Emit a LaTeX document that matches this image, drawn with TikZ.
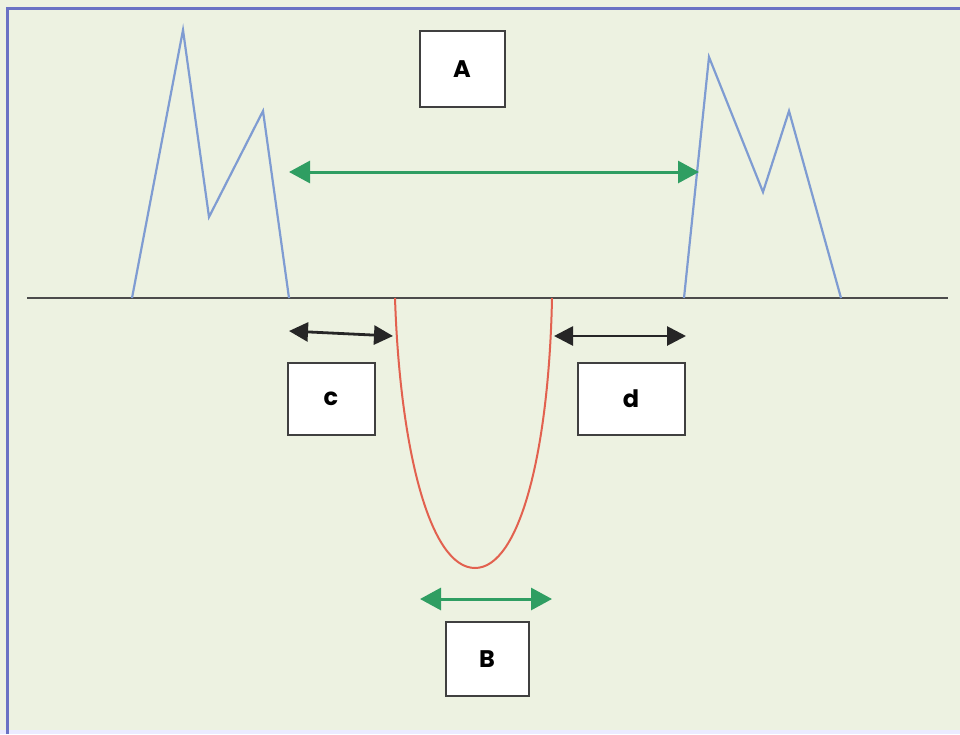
\documentclass[tikz,border=0pt]{standalone}
\usepackage{fontspec}
\setsansfont{Poppins}
\usepackage{tikz}
\usetikzlibrary{arrows.meta,positioning}
\definecolor{bgcol}{HTML}{EDF2E1}
\definecolor{framecol}{HTML}{6A72C4}
\definecolor{peakcol}{HTML}{7F9CD2}
\definecolor{ucol}{HTML}{E2614F}
\definecolor{arrgreen}{HTML}{2F9E62}
\begin{document}
\begin{tikzpicture}[x=1pt,y=-1pt,
label/.style={draw=black!75,line width=2pt,fill=white,minimum width=85pt,minimum height=76pt,inner sep=0pt,font=\sffamily\bfseries\fontsize{24}{28}\selectfont},
peak/.style={draw=peakcol,line width=2.2pt,line join=miter},
garr/.style={{Triangle[length=21pt,width=22pt]}-{Triangle[length=21pt,width=22pt]},draw=arrgreen,fill=arrgreen,line width=3pt},
karr/.style={{Triangle[length=19pt,width=19pt]}-{Triangle[length=19pt,width=19pt]},draw=black!85,fill=black!85,line width=2.8pt}]
% background and frame
\fill[bgcol](0,0)rectangle(960,734);
\useasboundingbox(0,0)rectangle(960,734);
\fill[blue!8](0,730)rectangle(960,734);
\draw[framecol,line width=3pt](7,734)--(7,8)--(960,8);
% baseline
\coordinate(bl)at(27,298);\coordinate(br)at(948,298);
\draw[black!70,line width=2.2pt](bl)--(br);
% peaks
\draw[peak](132,298)--(183,30)--(209,217)--(263,111)--(289,298);
\draw[peak](684,298)--(709,57)--(763,192)--(789,111)--(841,298);
% well
\draw[ucol,line width=2pt](395,298).. controls (400,450) and (430,568) ..(475,568)
  .. controls (520,568) and (549,450) ..(552,298);
% labels
\node[label](boxA)at(462,69){A};
\node[label,minimum width=87pt,minimum height=72pt](boxc)at(331,399){c};
\node[label,minimum width=107pt,minimum height=72pt](boxd)at(631,399){d};
\node[label,minimum width=83pt,minimum height=74pt](boxB)at(487,659){B};
% arrows
\coordinate(aL)at(289,172);\coordinate(aR)at(699,172);
\coordinate(cL)at(289,331);\coordinate(cR)at(393,336);
\coordinate(dL)at(554,336);\coordinate(dR)at(686,336);
\coordinate(bL)at(420,599);\coordinate(bR)at(552,599);
\draw[garr](aL)--(aR);
\draw[karr](cL)--(cR);
\draw[karr](dL)--(dR);
\draw[garr](bL)--(bR);
\end{tikzpicture}
\end{document}
